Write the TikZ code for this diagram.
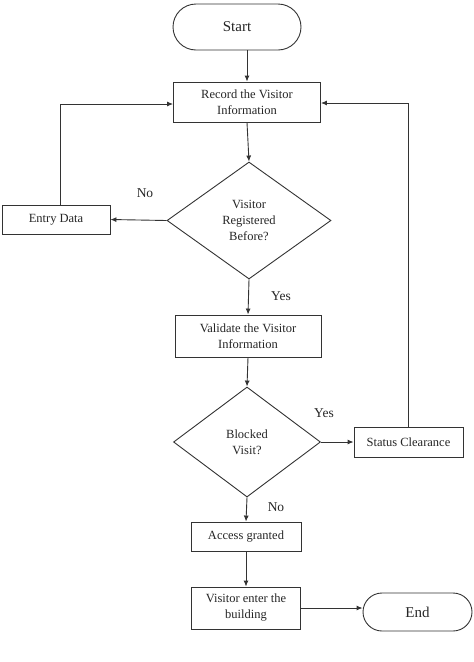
\documentclass[tikz,border=0pt]{standalone}
\usepackage{fontspec}
\setmainfont{Liberation Serif}
\usetikzlibrary{shapes.geometric,arrows.meta}
\begin{document}
\begin{tikzpicture}[x=1pt,y=-1pt,
  every node/.style={font=\fontsize{12.5}{16}\selectfont, text=black!85},
  line/.style={draw=black!80, line width=0.9pt},
  arr/.style={line, -{Latex[length=6pt,width=5pt]}},
  procbox/.style={line, rectangle, inner sep=0pt, align=center},
  term/.style={line, rectangle, rounded corners=18pt, inner sep=0pt, font=\fontsize{15}{18}\selectfont},
  decision/.style={line, diamond, inner sep=0pt, align=center},
  lbl/.style={font=\fontsize{13.5}{16}\selectfont}]
\useasboundingbox (0,0) rectangle (474,662);
\node[term, minimum width=128pt, minimum height=46pt, rounded corners=23pt] (start) at (237,27) {Start};
\node[procbox, minimum width=147pt, minimum height=40pt] (record) at (247,102) {Record the Visitor\\Information};
\node[decision, minimum width=164pt, minimum height=117pt] (dec1) at (249,220.5) {Visitor\\Registered\\Before?};
\node[procbox, minimum width=108pt, minimum height=29pt] (entry) at (56,219.5) {Entry Data};
\node[procbox, minimum width=146pt, minimum height=42pt] (validate) at (248,336) {Validate the Visitor\\Information};
\node[decision, minimum width=147pt, minimum height=110pt] (dec2) at (247,442) {Blocked\\Visit?};
\node[procbox, minimum width=109pt, minimum height=30pt] (status) at (408.5,442) {Status Clearance};
\node[procbox, minimum width=110pt, minimum height=29pt] (access) at (246,536.5) {Access granted};
\node[procbox, minimum width=109pt, minimum height=42pt] (visitor) at (246,608) {Visitor enter the\\building};
\node[term, minimum width=109pt, minimum height=38pt, rounded corners=19pt] (end) at (417.5,612) {End};

\node[lbl] (no1) at (145,193) {No};
\node[lbl] (yes1) at (281,296) {Yes};
\node[lbl] (yes2) at (324,413) {Yes};
\node[lbl] (no2) at (276,507) {No};

\draw[arr] (record.north |- start.south) -- (record.north);
\draw[arr] (record.south) -- (dec1.north);
\draw[arr] (dec1.west) -- (entry.east);
\draw[arr] ([xshift=4pt]entry.north) |- ([yshift=-2pt]record.west);
\draw[arr] (dec1.south) -- (validate.north);
\draw[arr] (validate.south) -- (dec2.north);
\draw[arr] (dec2.east) -- (status.west);
\draw[arr] (status.north) |- ([yshift=-1pt]record.east);
\draw[arr] (dec2.south) -- (access.north);
\draw[arr] (access.south) -- (visitor.north);
\draw[arr] (visitor.east) -- (visitor.east -| end.west);
\end{tikzpicture}
\end{document}
